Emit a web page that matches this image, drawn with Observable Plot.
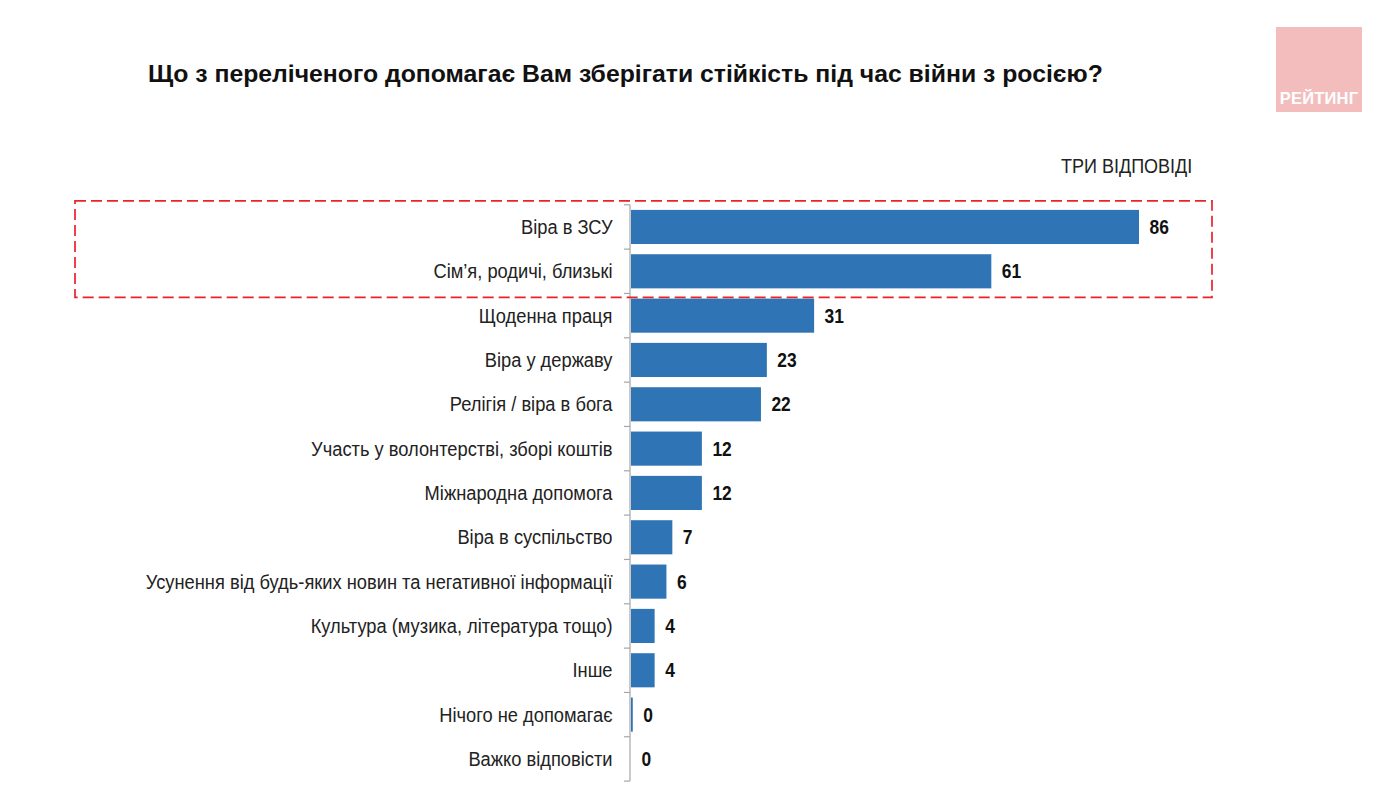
<!DOCTYPE html>
<html>
<head>
<meta charset="utf-8">
<script src="https://cdn.jsdelivr.net/npm/d3@7"></script>
<script src="https://cdn.jsdelivr.net/npm/@observablehq/plot@0.6"></script>
<style>
  html, body { margin: 0; padding: 0; background: #fff; }
  #wrap { position: relative; width: 1378px; height: 801px; overflow: hidden; font-family: "Liberation Sans", Arial, sans-serif; }
  #title { position: absolute; left: 148px; top: 60px; font-size: 23px; line-height: 28px; font-weight: bold; color: #111; white-space: nowrap; transform: scaleX(1.077); transform-origin: left center; }
  #sub { position: absolute; left: 1061px; top: 154px; font-size: 20px; line-height: 24px; color: #222; white-space: nowrap; transform: scaleX(0.9); transform-origin: left center; }
  #logo { position: absolute; left: 1276px; top: 27px; width: 86px; height: 85px; background: #f4bdbd; }
  #logo span { position: absolute; left: 0; right: 0; bottom: 4px; text-align: center; color: #fff; font-weight: bold; font-size: 16.5px; letter-spacing: 0.2px; }
  #chart { position: absolute; left: 0; top: 0; }
</style>
</head>
<body>
<div id="wrap">
  <div id="chart"></div>
  <div id="title">Що з переліченого допомагає Вам зберігати стійкість під час війни з росією?</div>
  <div id="sub">ТРИ ВІДПОВІДІ</div>
  <div id="logo"><span>РЕЙТИНГ</span></div>
</div>
<script>
const categories = [
  "Віра в ЗСУ",
  "Сім’я, родичі, близькі",
  "Щоденна праця",
  "Віра у державу",
  "Релігія / віра в бога",
  "Участь у волонтерстві, зборі коштів",
  "Міжнародна допомога",
  "Віра в суспільство",
  "Усунення від будь-яких новин та негативної інформації",
  "Культура (музика, література тощо)",
  "Інше",
  "Нічого не допомагає",
  "Важко відповісти"
];
const values = [86, 61, 31, 23, 22, 12, 12, 7, 6, 4, 4, 0.3, 0];
const valueLabels = ["86", "61", "31", "23", "22", "12", "12", "7", "6", "4", "4", "0", "0"];
const highlighted = ["Віра в ЗСУ", "Сім’я, родичі, близькі"];

const data = categories.map((c, i) => ({category: c, value: values[i], label: valueLabels[i]}));

const chart = Plot.plot({
  width: 1378,
  height: 801,
  marginLeft: 631,
  marginRight: 239,
  marginTop: 0,
  marginBottom: 0,
  style: {fontFamily: "'Liberation Sans', Arial, sans-serif", color: "#222", background: "transparent", overflow: "visible"},
  x: {domain: [0, 86], axis: null},
  y: {domain: categories, range: [199.7, 786.2], padding: 0.23, round: false, label: null},
  marks: [
    Plot.barX(data, {x: "value", y: "category", fill: "#2f75b6"}),
    Plot.text(data, {x: "value", y: "category", text: "label", dx: 10, textAnchor: "start", fontSize: 20, fontWeight: "bold", fill: "#111", className: "vals"}),
    Plot.axisY({tickSize: 0, tickPadding: 19, fontSize: 20, fill: "#222", className: "ylab"})
  ]
});
document.getElementById("chart").appendChild(chart);

// horizontally condense text around its anchor
function condense(sel, k) {
  sel.each(function() {
    const x = +this.getAttribute("x") || 0, y = +this.getAttribute("y") || 0;
    const t = this.getAttribute("transform") || "";
    this.setAttribute("transform", `${t} translate(${x},${y}) scale(${k},1) translate(${-x},${-y})`);
  });
}
const svg = d3.select(chart);
condense(svg.selectAll(".ylab text"), 0.915);
condense(svg.selectAll(".vals text"), 0.87);

// axis line, boundary ticks and highlight box, from the scales
const ys = chart.scale("y");
const xs = chart.scale("x");
const step = ys.step, bw = ys.bandwidth;
const x0 = xs.apply(0) - 1;
const gap = (step - bw) / 2;
const firstTop = ys.apply(categories[0]) - gap;
const lastBottom = ys.apply(categories[categories.length - 1]) + bw + gap;
const g = svg.append("g");
g.append("line").attr("x1", x0).attr("x2", x0).attr("y1", firstTop).attr("y2", lastBottom)
  .attr("stroke", "#a6a6a6").attr("stroke-width", 1.2);
const bounds = [firstTop, ...categories.map(c => ys.apply(c) + bw + gap)];
g.selectAll("line.t").data(bounds).join("line").attr("class", "t")
  .attr("x1", x0 - 6).attr("x2", x0).attr("y1", d => d).attr("y2", d => d)
  .attr("stroke", "#a6a6a6").attr("stroke-width", 1.2);
const hTop = ys.apply(highlighted[0]) - gap - 4;
const hBot = ys.apply(highlighted[highlighted.length - 1]) + bw + gap + 4;
g.append("rect").attr("x", 75).attr("y", hTop).attr("width", 1212 - 75).attr("height", hBot - hTop)
  .attr("fill", "none").attr("stroke", "#e8232a").attr("stroke-width", 1.7).attr("stroke-dasharray", "11,5");
</script>
</body>
</html>
